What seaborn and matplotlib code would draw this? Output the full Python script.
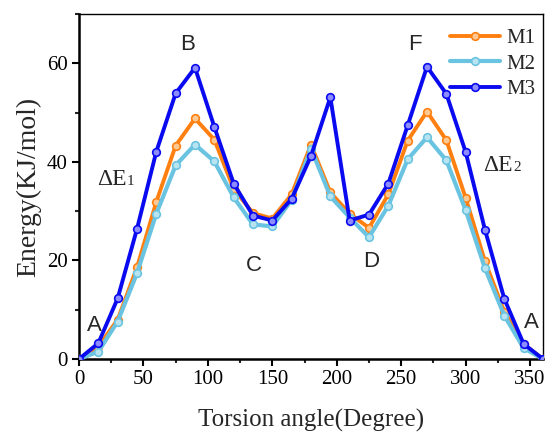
import numpy as np
import pandas as pd
import matplotlib
matplotlib.use("Agg")
import matplotlib.pyplot as plt
import seaborn as sns
from matplotlib.ticker import MultipleLocator

# Torsion scan (degrees) and relative energies (kJ/mol)
angle = [0, 15, 30, 45, 60, 75, 90, 105, 120, 135, 150, 165, 180,
         195, 210, 225, 240, 255, 270, 285, 300, 315, 330, 345, 360]
m1 = [0, 2.5, 8.0, 18.6, 31.9, 43.3, 48.8, 44.5, 34.5, 29.6, 28.5, 33.4, 43.5,
      33.8, 29.5, 26.6, 33.4, 44.3, 50.2, 44.4, 32.7, 19.8, 9.6, 3.0, 0]
m2 = [0, 1.5, 7.6, 17.4, 29.5, 39.3, 43.5, 40.1, 32.8, 27.3, 26.9, 32.3, 42.7,
      33.0, 28.7, 24.7, 31.1, 40.5, 45.0, 40.3, 30.2, 18.4, 8.8, 2.2, 0]
m3 = [0, 3.2, 12.3, 26.4, 42.1, 53.9, 59.1, 47.1, 35.6, 29.1, 28.1, 32.5, 41.2,
      53.1, 28.1, 29.3, 35.6, 47.4, 59.3, 53.8, 42.0, 26.2, 12.2, 3.05, 0]
series_names = ["M1", "M2", "M3"]

df = pd.DataFrame({
    "angle": angle * 3,
    "energy": m1 + m2 + m3,
    "model": np.repeat(series_names, len(angle)),
})

sns.set_style("ticks")
plt.rcParams["font.family"] = ["Liberation Serif", "DejaVu Serif"]

colors = {"M1": "#FF8010", "M2": "#6AC3E0", "M3": "#0A0AF0"}
face = {"M1": "#FFC890", "M2": "#B8E4F2", "M3": "#8C8CFF"}
widths = {"M1": 2.8, "M2": 3.0, "M3": 2.8}

fig = plt.figure(figsize=(5.48, 4.34), dpi=100)
ax = fig.add_axes([79 / 548, 1 - 359 / 434, (543 - 79) / 548, (359 - 14) / 434])

for name in series_names:
    sub = df[df["model"] == name]
    sns.lineplot(data=sub, x="angle", y="energy", ax=ax, color=colors[name],
                 linewidth=widths[name], marker="o", markersize=5.5,
                 markerfacecolor=face[name], markeredgecolor=colors[name],
                 markeredgewidth=1.2, label=name, zorder=3)

ax.set_xlim(0, 360)
ax.set_ylim(0, 70)
ax.xaxis.set_major_locator(MultipleLocator(50))
ax.xaxis.set_minor_locator(MultipleLocator(25))
ax.yaxis.set_major_locator(MultipleLocator(20))
ax.yaxis.set_minor_locator(MultipleLocator(10))
ax.set_yticks([0, 20, 40, 60])
ax.tick_params(axis="both", which="major", direction="out", length=5, width=1.5,
               labelsize=15, colors="black", pad=3)
ax.tick_params(axis="both", which="minor", direction="out", length=3, width=1.5)
ax.tick_params(top=False, right=False, which="both")

for side in ["left", "bottom"]:
    ax.spines[side].set_linewidth(1.8)
for side in ["top", "right"]:
    ax.spines[side].set_linewidth(1.0)
for s in ax.spines.values():
    s.set_color("black")

ax.set_xlabel("Torsion angle(Degree)", fontsize=18, labelpad=14)
ax.set_ylabel("Energy(KJ/mol)", fontsize=20, labelpad=4)

sans = ["Liberation Sans", "DejaVu Sans"]
for txt, x, y in [("B", 84.6, 63.9), ("F", 261, 63.9), ("C", 135.4, 19.0),
                  ("D", 226.5, 19.8), ("A", 12, 6.7), ("A", 350.7, 7.4)]:
    ax.text(x, y, txt, fontsize=16, family=sans, ha="center", va="center")

# Delta E labels with a small index digit on the baseline
fig.canvas.draw()
for x, y, idx in [(13.7, 35.4, "1"), (313.7, 38.1, "2")]:
    t = ax.text(x, y, "ΔE", fontsize=17, ha="left", va="baseline")
    bb = t.get_window_extent(renderer=fig.canvas.get_renderer())
    xr = ax.transData.inverted().transform((bb.x1, 0))[0]
    ax.text(xr + 0.3, y, idx, fontsize=11, ha="left", va="baseline")

leg = ax.legend(loc="upper right", bbox_to_anchor=(1.01, 0.995), frameon=False,
                fontsize=15, handlelength=2.4, handletextpad=0.3,
                labelspacing=0.3, borderaxespad=0.2)

fig.savefig("out.png", dpi=100)
